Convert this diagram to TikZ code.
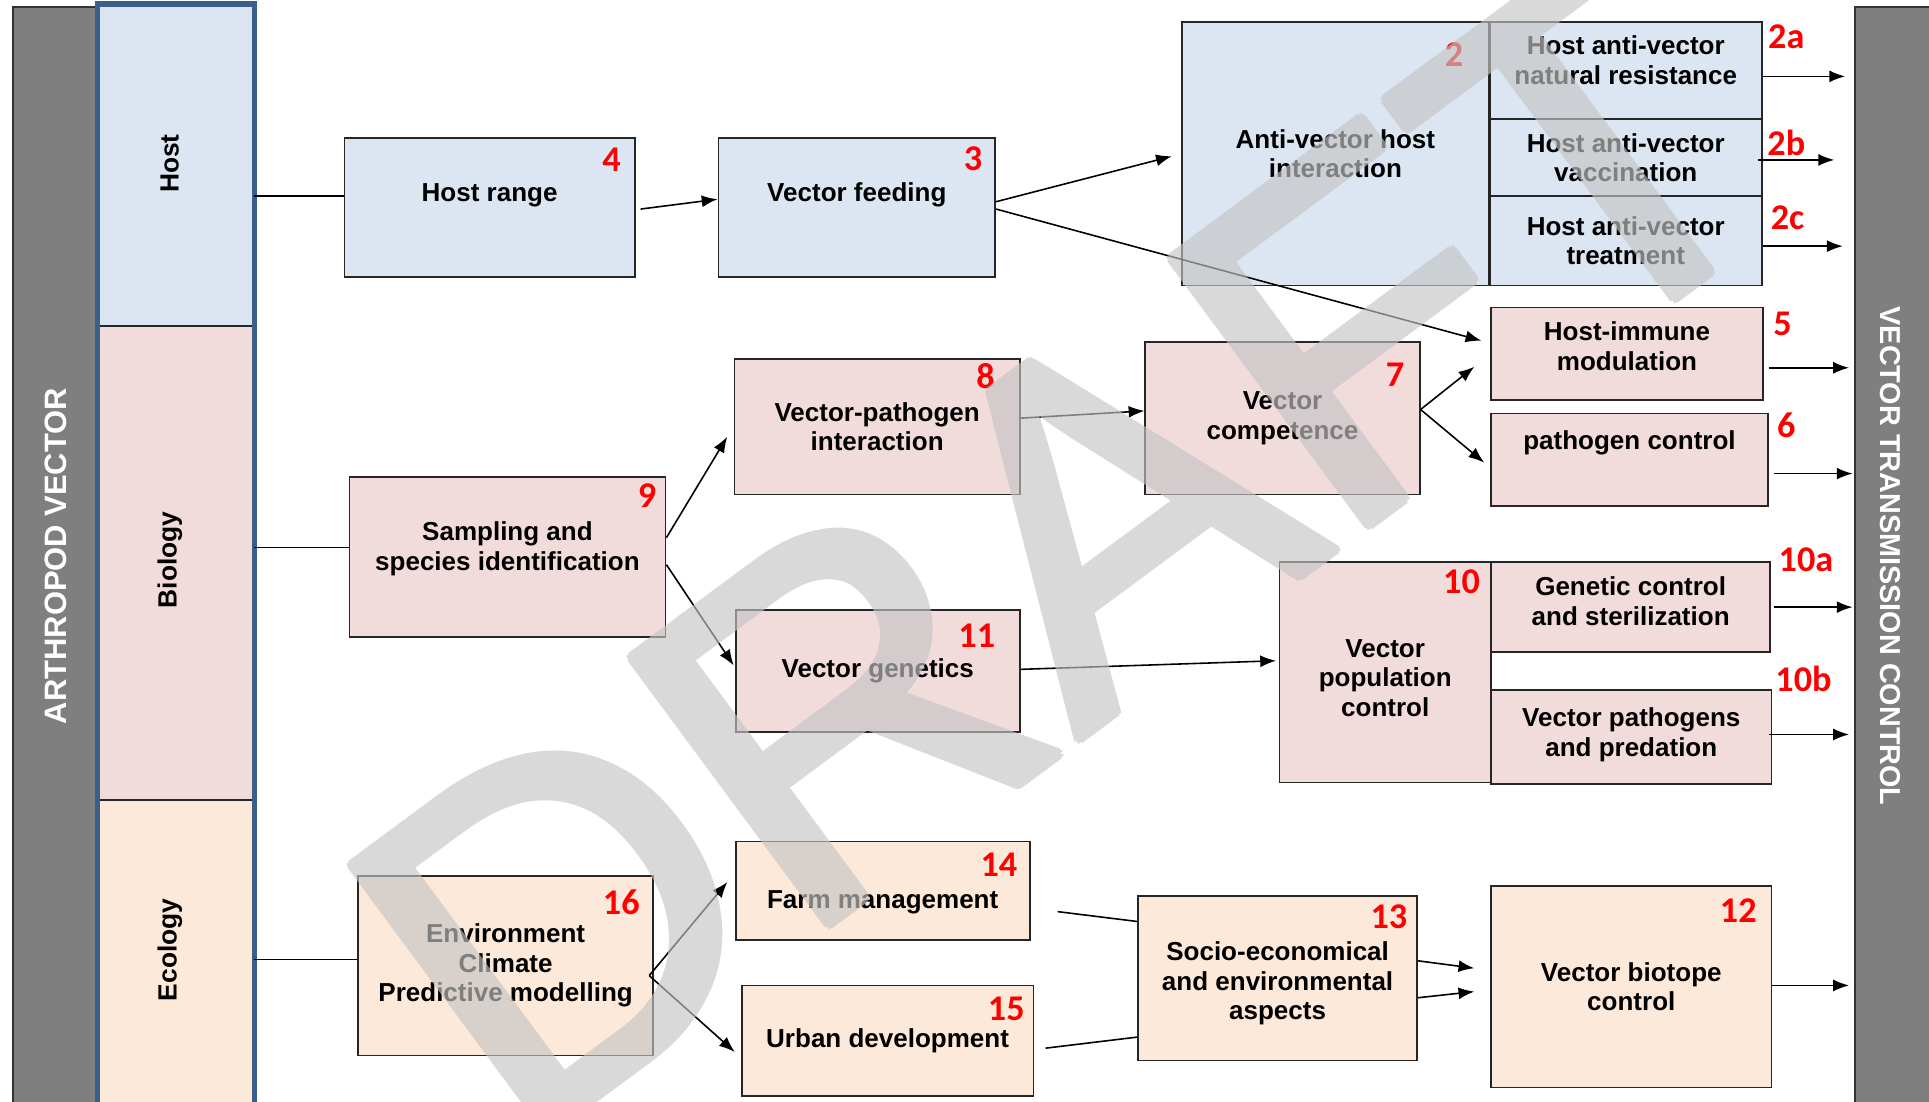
\documentclass[tikz,border=0pt]{standalone}
\usepackage{fontspec}
\setmainfont{Liberation Sans}
\newfontfamily\numfont{Carlito}
\usepackage{tikz}
\usetikzlibrary{arrows.meta}

\definecolor{hostblue}{HTML}{DCE6F2}
\definecolor{biopink}{HTML}{F2DCDB}
\definecolor{ecopeach}{HTML}{FDE9D9}
\definecolor{colblue}{HTML}{3A5F8C}
\definecolor{bargray}{HTML}{7F7F7F}
\definecolor{draftgray}{HTML}{C4C4C4}

\tikzset{
  sz/.style 2 args={minimum width=#1*0.35pt, minimum height=#2*0.35pt},
  box/.style={draw=black!85, line width=0.5pt, inner sep=0pt, align=center,
    font=\bfseries\fontsize{7.4}{8.4}\selectfont},
  hostbox/.style={box, fill=hostblue},
  biobox/.style={box, fill=biopink},
  ecobox/.style={box, fill=ecopeach},
  num/.style={inner sep=0pt, text=red, font=\numfont\bfseries\fontsize{10.3}{12}\selectfont},
  darkbar/.style={draw=black!80, fill=bargray, line width=0.5pt},
  bartext/.style={text=white, font=\bfseries\fontsize{#1}{10}\selectfont},
  coltext/.style={rotate=90, font=\bfseries\fontsize{7.5}{8.4}\selectfont},
  conn/.style={line width=0.45pt},
  draftmark/.style={inner sep=0pt, text=draftgray, rotate=36.5, anchor=base west,
    font=\fontsize{137.5}{140}\selectfont}
}

\begin{document}
\begin{tikzpicture}[x=0.35pt, y=-0.35pt, >={Latex[length=4.5pt,width=3.4pt]}]
\useasboundingbox (0,0) rectangle (1568,895);

% side bars
\node[darkbar, sz={70}{910}, anchor=north west] (arthro) at (10,5) {};
\node[darkbar, sz={70}{910}, anchor=north west] (trc) at (1507,5) {};
\node[bartext=8.8, rotate=90] (arthro-t) at (45,452) {ARTHROPOD VECTOR};
\node[bartext=8.2, rotate=-90] (trc-t) at (1537,452) {VECTOR TRANSMISSION CONTROL};

% category column
\node[hostbox, sz={126}{261}] (colhost) at (143,134.5) {};
\node[biobox, sz={126}{385}] (colbio) at (143,457.5) {};
\node[ecobox, sz={126}{250}] (coleco) at (143,775) {};
\draw[colblue, line width=1.5pt] (colhost.north west) rectangle (coleco.south east);
\node[coltext] (colhost-t) at (138,133) {Host};
\node[coltext] (colbio-t) at (138,455) {Biology};
\node[coltext] (coleco-t) at (138,772) {Ecology};

% host row
\node[hostbox, sz={236}{113}] (hr) at (398,168.5) {Host range\\~};
\node[hostbox, sz={225}{113}] (vf) at (696.5,168.5) {Vector feeding\\~};
\node[hostbox, sz={249}{214}] (av) at (1085.5,125) {Anti-vector host\\interaction};
\node[hostbox, sz={221}{79}] (b2a) at (1321.5,57.5) {Host anti-vector\\natural resistance\\[-2.4pt]~};
\node[hostbox, sz={221}{62}] (b2b) at (1321.5,128) {Host anti-vector\\vaccination};
\node[hostbox, sz={221}{73}] (b2c) at (1321.5,195.5) {Host anti-vector\\treatment};

% biology rows
\node[biobox, sz={221}{75}] (him) at (1322.5,287.5) {Host-immune\\modulation\\[-4.2pt]~};
\node[biobox, sz={225}{75}] (pc) at (1324.5,373.5) {pathogen control\\[2.6pt]~};
\node[biobox, sz={232}{110}] (vpi) at (713,347) {Vector-pathogen\\interaction};
\node[biobox, sz={223}{124}] (vc) at (1042.5,340) {Vector\\competence};
\node[biobox, sz={257}{130}] (ssi) at (412.5,453) {Sampling and\\species identification\\[-1.9pt]~};
\node[biobox, sz={231}{99}] (vg) at (713.5,545.5) {Vector genetics};
\node[biobox, sz={172}{179}] (vpc) at (1126,546.5) {~\\Vector\\population\\control};
\node[biobox, sz={227}{73}] (gcs) at (1325.5,493.5) {Genetic control\\and sterilization\\[-4.9pt]~};
\node[biobox, sz={228}{76}] (vpp) at (1326,599) {Vector pathogens\\and predation\\[-5.6pt]~};

% ecology row
\node[ecobox, sz={240}{146}] (ecp) at (411,785) {Environment\\Climate\\Predictive modelling};
\node[ecobox, sz={239}{80}] (fm) at (717.5,724) {~\\[3.4pt]Farm management};
\node[ecobox, sz={237}{90}] (ud) at (721.5,846) {Urban development};
\node[ecobox, sz={227}{134}] (sea) at (1038.5,795) {~\\Socio-economical\\and environmental\\aspects};
\node[ecobox, sz={228}{164}] (vbc) at (1326,802) {Vector biotope\\control};

% numbers
\node[num] (n4) at (497,130) {4};
\node[num] (n3) at (791,129) {3};
\node[num] (n2) at (1182,44) {2};
\node[num] (n2a) at (1452,30) {2a};
\node[num] (n2b) at (1452,116) {2b};
\node[num] (n2c) at (1453,177) {2c};
\node[num] (n5) at (1449,263) {5};
\node[num] (n6) at (1452,346) {6};
\node[num] (n8) at (801,306) {8};
\node[num] (n7) at (1134,305) {7};
\node[num] (n9) at (526,403) {9};
\node[num] (n11) at (794,517) {11};
\node[num] (n10) at (1188,473) {10};
\node[num] (n10a) at (1468,455) {10a};
\node[num] (n10b) at (1466,552) {10b};
\node[num] (n16) at (505,733) {16};
\node[num] (n14) at (812,703) {14};
\node[num] (n15) at (818,820) {15};
\node[num] (n13) at (1129,745) {13};
\node[num] (n12) at (1413,740) {12};

% links
\draw[conn] ([yshift=3.3pt]hr.west) -- ([yshift=3.3pt]hr.west -| colhost.east);
\draw[conn] ([yshift=2.8pt]ssi.west) -- ([yshift=2.8pt]ssi.west -| colbio.east);
\draw[conn] ([yshift=1.75pt]ecp.west) -- ([yshift=1.75pt]ecp.west -| coleco.east);
\draw[conn] ([xshift=7.7pt,yshift=-5.95pt]fm.east) -- ([yshift=16.1pt]sea.west);
\draw[conn] ([xshift=3.2pt,yshift=-2.1pt]ud.east) -- ([yshift=-16.8pt]sea.west);

\path[conn,->]
  ([xshift=1.4pt,yshift=-.5pt]hr.east) edge ([yshift=2.3pt]vf.west)
  ([yshift=1.6pt]vf.east) edge[shorten >=2.8pt] (av.west)
  ([yshift=-.5pt]vf.east) edge ([xshift=-2.5pt,yshift=3.7pt]him.west)
  ([yshift=5.6pt]ssi.east) edge ([xshift=-1.8pt,yshift=-2.8pt]vpi.west)
  ([yshift=-2.1pt]ssi.east) edge ([xshift=-.3pt,yshift=1.6pt]vg.west)
  ([yshift=2.5pt]vpi.east) edge ([yshift=2.1pt]vc.west)
  ([yshift=2.5pt]vc.east) edge ([xshift=-4.5pt,yshift=-3.7pt]him.west)
                          edge ([xshift=-1.7pt,yshift=-.9pt]pc.west)
  ([yshift=.5pt]vg.east) edge ([xshift=-.7pt,yshift=3.3pt]vpc.west)
  ([xshift=-1.4pt,yshift=-2.8pt]ecp.east) edge ([xshift=-2.1pt,yshift=2.5pt]fm.west)
                                          edge ([xshift=-1.75pt,yshift=-3.2pt]ud.west)
  ([yshift=4.9pt]sea.east) edge ([xshift=-4.5pt,yshift=5.25pt]vbc.west)
  ([yshift=-5.6pt]sea.east) edge ([xshift=-4.5pt,yshift=-1.4pt]vbc.west);

% into transmission control
\path[conn,->]
  ([yshift=-1.6pt]b2a.east) edge[shorten >=2.5pt] ([yshift=-1.6pt]b2a.east -| trc.west)
  ([xshift=-1.4pt,yshift=-.7pt]b2b.east) edge[shorten >=4.2pt] ([xshift=-1.4pt,yshift=-.7pt]b2b.east -| trc.west)
  ([yshift=-1.6pt]b2c.east) edge[shorten >=3.2pt] ([yshift=-1.6pt]b2c.east -| trc.west)
  ([xshift=1.4pt,yshift=-4pt]him.east) edge[shorten >=1.4pt] ([yshift=-4pt]him.east -| trc.west)
  ([xshift=1.4pt,yshift=-4pt]pc.east) edge[shorten >=.4pt] ([yshift=-4pt]pc.east -| trc.west)
  ([xshift=.7pt]gcs.east) edge[shorten >=.4pt] (gcs.east -| trc.west)
  ([xshift=-1pt,yshift=.7pt]vpp.east) edge[shorten >=1.4pt] ([yshift=.7pt]vpp.east -| trc.west)
  ([yshift=.35pt]vbc.east) edge[shorten >=1.4pt] ([yshift=.35pt]vbc.east -| trc.west);

% watermark
\begin{scope}[transparency group, opacity=.65]
\foreach \a in {0,45,...,315}
  \node[draftmark, shift={(\a:4)}] (draft-\a) at (420,940) {DRAFT};
\node[draftmark] (draft) at (420,940) {DRAFT};
\end{scope}
\end{tikzpicture}
\end{document}
